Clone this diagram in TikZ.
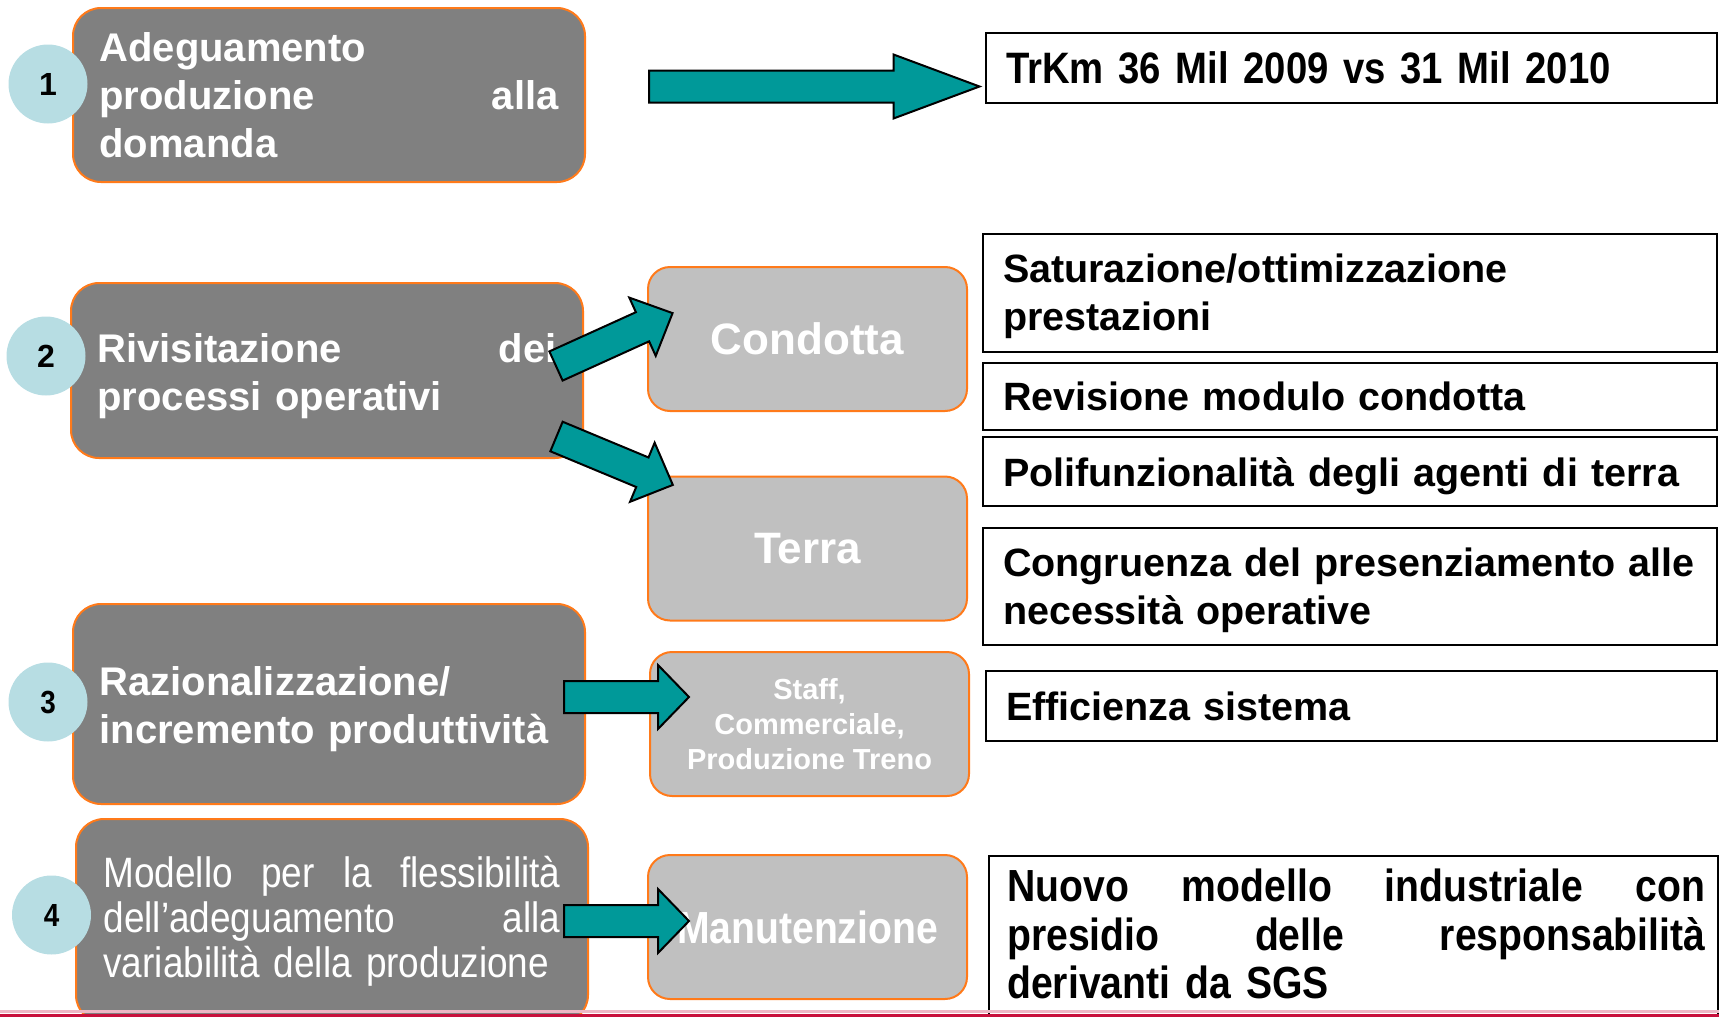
\documentclass[tikz,border=0pt]{standalone}
\usepackage{fontspec}
\setmainfont{Liberation Sans}
\newfontfamily\narrowfont[FakeStretch=0.87]{Liberation Sans}
\usetikzlibrary{calc}
\definecolor{boxgray}{HTML}{808080}
\definecolor{boxlight}{HTML}{C0C0C0}
\definecolor{edgeorange}{HTML}{FF7A1A}
\definecolor{bubble}{HTML}{B7DDE3}
\definecolor{arrowteal}{HTML}{009999}
\definecolor{footred}{HTML}{C8103C}
\tikzset{
	phase/.style={draw=edgeorange, line width=2pt, fill=boxgray, rounded corners=28pt, text=white, font=\bfseries\fontsize{40}{48}\selectfont, text width=459pt, inner xsep=26.5pt, inner ysep=0pt, align=left},
	area/.style={draw=edgeorange, line width=2pt, fill=boxlight, rounded corners=22pt, text=white, font=\bfseries\fontsize{44}{50}\selectfont, minimum width=319pt, minimum height=144pt, inner sep=0pt, align=center},
	result/.style={draw=black, line width=2pt, fill=white, text width=694pt, inner xsep=20pt, inner ysep=0pt, align=left, font=\bfseries\fontsize{39.5}{48}\selectfont},
	num/.style={circle, fill=bubble, minimum size=79pt, inner sep=0pt, font=\bfseries\fontsize{32}{32}\selectfont},
	arrowbody/.style={draw=black, line width=2pt, fill=arrowteal, line join=miter}
}
\def\blockarrow(#1)(#2:#3:#4){\draw[arrowbody, shift={(#1)}, rotate=#2] (0,-16) -- (#3,-16) -- (#3,-32) -- ({#3+#4},0) -- (#3,32) -- (#3,16) -- (0,16) -- cycle;}
\newcommand{\topgap}[1]{\rule{0pt}{#1pt}}

\begin{document}
\begin{tikzpicture}[x=1pt, y=-1pt]
			%%%%% START %%%%%
			\useasboundingbox (0,0) rectangle (1719,1017);
			\clip (0,0) rectangle (1719,1017);
			
			\node[phase, minimum height=174pt] (fase1) at (329,95) {Adeguamento\\ produzione\hfill alla\\ domanda};
			\node[phase, minimum height=175pt] (fase2) at (327,370.5) {\topgap{40}Rivisitazione\hfill dei\\ processi operativi};
			\node[phase, minimum height=200pt] (fase3) at (329,704) {\topgap{40}Razionalizzazione/\\ incremento produttività};
			\node[phase, minimum height=204pt, anchor=north, text width=457pt, inner xsep=27.5pt, font=\narrowfont\fontsize{42.5}{45}\selectfont] (fase4) at (332,818) {Modello\hfill per\hfill la\hfill flessibilità\\ dell’adeguamento\hfill alla\\ variabilità della produzione};
			
			\node[num] (n1) at (48,84) {1};
			\node[num] (n2) at (46,356) {2};
			\node[num, font=\bfseries\narrowfont\fontsize{32}{32}\selectfont] (n3) at (48,702) {3};
			\node[num, font=\bfseries\narrowfont\fontsize{32}{32}\selectfont] (n4) at (51.5,915) {4};
			
			\node[area] (condotta) at (807.5,339) {Condotta};
			\node[area] (terra) at (807.5,548.5) {Terra};
			\node[area, font=\bfseries\fontsize{29}{35}\selectfont] (staff) at (809.5,724) {Staff,\\ Commerciale,\\ Produzione Treno};
			\node[area, font=\bfseries\narrowfont\fontsize{45}{50}\selectfont] (manut) at (807.5,927) {Manutenzione};
			
			\node[result, text width=691pt, minimum height=70pt, font=\bfseries\narrowfont\fontsize{44}{48}\selectfont] (trkm) at (1351.5,68) {TrKm 36 Mil 2009 vs 31 Mil 2010};
			\node[result, minimum height=118.5pt] (satur) at (1350,293) {\topgap{36}Saturazione/ottimizzazione\\ prestazioni};
			\node[result, minimum height=67pt] (modulo) at (1350,396.5) {Revisione modulo condotta};
			\node[result, minimum height=69pt] (polif) at (1350,471.5) {\topgap{38}Polifunzionalità degli agenti di terra};
			\node[result, minimum height=117pt] (congr) at (1350,586.5) {\topgap{37}Congruenza del presenziamento alle\\ necessità operative};
			\node[result, text width=691pt, minimum height=70pt] (effic) at (1351.5,706) {Efficienza sistema};
			\node[result, text width=689pt, minimum height=200pt, anchor=north west] (nuovo) at (988,855) {};
			\node[anchor=north west, inner sep=0pt, text width=698pt, align=left, font=\bfseries\narrowfont\fontsize{45}{48.5}\selectfont] (nuovotxt) at (1007,869) {Nuovo\hfill modello\hfill industriale\hfill con\\ presidio\hfill delle\hfill responsabilità\\ derivanti da SGS};
			
			\coordinate (a1) at (649,86.5);
			\coordinate (a2) at (556,366);
			\coordinate (a3) at (556.5,436.5);
			\coordinate (a4) at (564,697);
			\coordinate (a5) at (564,921);
			\blockarrow(a1)(0:244.5:86)
			\blockarrow(a2)(24.4:95:33)
			\blockarrow(a3)(-22.6:93:33)
			\blockarrow(a4)(0:94:31)
			\blockarrow(a5)(0:94:31)
			
			\draw[footred!30, line width=3pt] (0,1011.5) -- (1719,1011.5);
			\draw[footred, line width=3pt] (0,1015) -- (1719,1015);
			%%%%% END %%%%%
\end{tikzpicture}
\end{document}
